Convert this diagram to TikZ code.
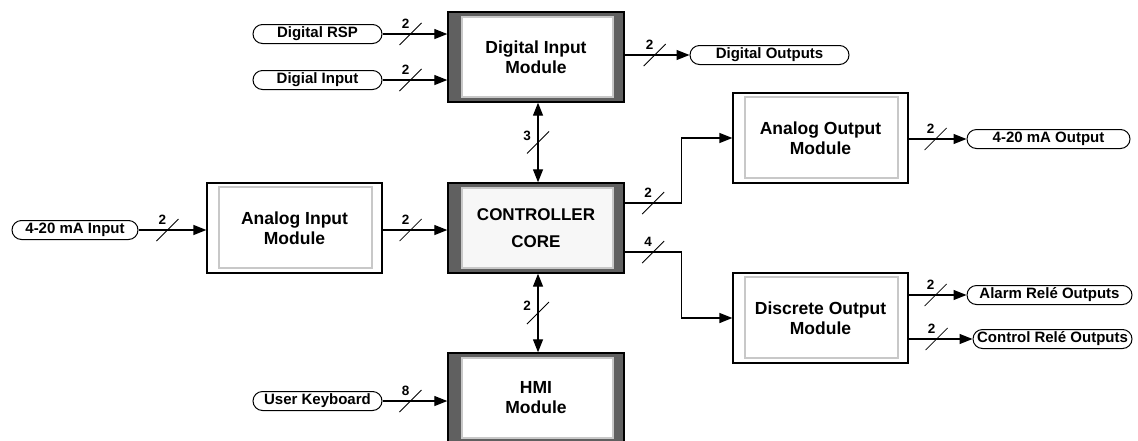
\documentclass[tikz,border=0pt]{standalone}
\usepackage{fontspec}
\setmainfont{Liberation Sans}
\usetikzlibrary{arrows.meta,calc}
\definecolor{bandgray}{RGB}{96,96,96}
\definecolor{rimgray}{RGB}{200,200,200}
\definecolor{paper}{RGB}{247,247,247}

\tikzset{
  modtext/.style={align=center, font=\bfseries\fontsize{17.5}{20}\selectfont},
  % module with dark side bands and a white panel inside
  darkmod/.style={modtext, draw=black, line width=1.4pt, fill=bandgray,
    minimum width=176pt, minimum height=90pt, inner sep=0pt,
    path picture={\draw[draw=rimgray, line width=1.5pt, fill=#1]
      ([xshift=14pt,yshift=-5pt]path picture bounding box.north west) rectangle
      ([xshift=-11pt,yshift=5pt]path picture bounding box.south east);}},
  darkmod/.default=white,
  % plain module with a light inner frame
  plainmod/.style={modtext, draw=black, line width=1.2pt, fill=white,
    minimum width=175pt, minimum height=90pt, inner sep=0pt,
    path picture={\draw[draw=rimgray, line width=1.5pt]
      ([xshift=12pt,yshift=-4pt]path picture bounding box.north west) rectangle
      ([xshift=-10pt,yshift=5pt]path picture bounding box.south east);}},
  pill/.style={draw=black, line width=1pt, fill=white, rounded corners=9.5pt,
    minimum height=19pt, inner sep=0pt, font=\bfseries\fontsize{15}{17}\selectfont},
  link/.style={line width=1.3pt, -{Triangle[length=13pt,width=10pt]}},
  duplex/.style={line width=1.3pt, {Triangle[length=13pt,width=10pt]}-{Triangle[length=13pt,width=10pt]}},
  buslabel/.style={inner sep=0pt, font=\bfseries\fontsize{13.5}{14}\selectfont},
  hbus/.pic={\draw[line width=0.8pt] (-11pt,-11pt) -- (11pt,11pt);
    \node[buslabel] at (-5pt,10pt) {#1};},
  vbus/.pic={\draw[line width=0.8pt] (-11pt,-11pt) -- (11pt,11pt);
    \node[buslabel] at (-11pt,7pt) {#1};},
}

\begin{document}
\begin{tikzpicture}[x=1pt,y=-1pt]
\useasboundingbox (0,0) rectangle (1138,440);

% modules
\node[darkmod] (din) at (536,57) {Digital Input\\Module};
\node[darkmod=paper, font=\bfseries\fontsize{17}{27}\selectfont] (core) at (536,228) {CONTROLLER\\CORE};
\node[darkmod] (hmi) at (536,398) {HMI\\Module};
\node[plainmod] (ain) at (294.5,228) {Analog Input\\Module};
\node[plainmod] (aout) at (820.5,138) {Analog Output\\Module};
\node[plainmod] (dout) at (820.5,318) {Discrete Output\\Module};

% signal terminals
\node[pill, minimum width=129pt] (rsp) at (317.5,34) {Digital RSP};
\node[pill, minimum width=129pt] (dgin) at (317.5,80) {Digial Input};
\node[pill, minimum width=159pt] (dgout) at (769.5,55) {Digital Outputs};
\node[pill, minimum width=126pt] (mAin) at (75,230) {4-20 mA Input};
\node[pill, minimum width=163pt] (mAout) at (1048.5,139) {4-20 mA Output};
\node[pill, minimum width=165pt] (alarm) at (1049.5,295) {Alarm Relé Outputs};
\node[pill, minimum width=159pt] (ctrl) at (1052.5,339) {Control Relé Outputs};
\node[pill, minimum width=129pt] (kbd) at (317.5,401) {User Keyboard};

% inputs of the digital module
\draw[link] (rsp.east) -- (rsp.east -| din.west);
\pic at ($(rsp.east)+(28,0)$) {hbus=2};
\draw[link] (dgin.east) -- (dgin.east -| din.west);
\pic at ($(dgin.east)+(28,0)$) {hbus=2};
\draw[link] (din.east |- dgout.west) -- (dgout.west);
\pic at ($(din.east |- dgout.west)+(30,0)$) {hbus=2};

% analog input chain
\draw[link] (mAin.east) -- (mAin.east -| ain.west);
\pic at ($(mAin.east)+(29,0)$) {hbus=2};
\draw[link] (ain.east |- mAin.east) -- (mAin.east -| core.west);
\pic at ($(ain.east |- mAin.east)+(28,0)$) {hbus=2};

% core to digital and HMI modules
\draw[duplex] ([xshift=2pt]din.south) -- ([xshift=2pt]core.north);
\pic at ($(din.south)!0.5!(core.north)+(2,0)$) {vbus=3};
\draw[duplex] ([xshift=2pt]core.south) -- ([xshift=2pt]hmi.north);
\pic at ($(core.south)!0.5!(hmi.north)+(2,0)$) {vbus=2};

% core to output modules
\draw[link] ([yshift=25pt]core.east) -- ++(57,0) |- (aout.west);
\pic at ($(core.east)+(28.5,-25)$) {hbus=2};
\draw[link] ([yshift=-24pt]core.east) -- ++(57,0) |- (dout.west);
\pic at ($(core.east)+(28.5,24)$) {hbus=4};

% outputs
\draw[link] (aout.east |- mAout.west) -- (mAout.west);
\pic at ($(aout.east |- mAout.west)+(27,0)$) {hbus=2};
\draw[link] (dout.east |- alarm.west) -- (alarm.west);
\pic at ($(dout.east |- alarm.west)+(27,0)$) {hbus=2};
\draw[link] (dout.east |- ctrl.west) -- (ctrl.west);
\pic at ($(dout.east |- ctrl.west)+(28,0)$) {hbus=2};

% keyboard
\draw[link] (kbd.east) -- (kbd.east -| hmi.west);
\pic at ($(kbd.east)+(28,0)$) {hbus=8};
\end{tikzpicture}
\end{document}
